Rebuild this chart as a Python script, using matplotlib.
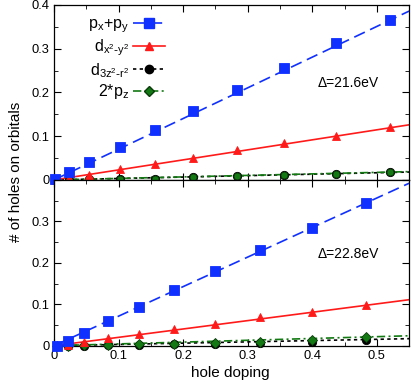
import matplotlib
matplotlib.use("Agg")
import matplotlib.pyplot as plt
from matplotlib.lines import Line2D
from matplotlib.ticker import MultipleLocator, FuncFormatter

plt.rcParams['font.family'] = ['Liberation Sans', 'DejaVu Sans']
plt.rcParams['mathtext.default'] = 'regular'

# panel 1 (Delta = 21.6 eV)
x_top = [0.001, 0.023, 0.054, 0.103, 0.156, 0.215, 0.284, 0.356, 0.437, 0.521]
pxy_top = [0.002, 0.018, 0.042, 0.076, 0.115, 0.157, 0.206, 0.255, 0.312, 0.366]
dx2_top = [0.000, 0.004, 0.011, 0.024, 0.037, 0.051, 0.069, 0.084, 0.101, 0.121]
d3z_top = [0.000, 0.000, 0.001, 0.002, 0.003, 0.006, 0.009, 0.011, 0.014, 0.018]
pz_top = [0.000, 0.000, 0.001, 0.002, 0.003, 0.006, 0.009, 0.011, 0.014, 0.018]

# panel 2 (Delta = 22.8 eV)
x_bot = [0.004, 0.021, 0.046, 0.084, 0.132, 0.186, 0.249, 0.319, 0.399, 0.484]
pxy_bot = [0.000, 0.011, 0.030, 0.059, 0.094, 0.135, 0.181, 0.230, 0.285, 0.344]
dx2_bot = [0.000, 0.002, 0.008, 0.019, 0.028, 0.040, 0.053, 0.069, 0.082, 0.099]
d3z_bot = [0.000, 0.000, 0.000, 0.001, 0.002, 0.004, 0.005, 0.007, 0.010, 0.013]
pz_bot = [0.000, 0.000, 0.001, 0.002, 0.003, 0.005, 0.007, 0.010, 0.013, 0.020]

# straight fit lines: value at x = 0 and at x = 0.55
fit_x = [0.0, 0.55]
fit_top = {"pxy": [0.0, 0.386], "dx2": [0.0, 0.126], "d3z": [0.0, 0.018], "pz": [0.0, 0.019]}
fit_bot = {"pxy": [0.0, 0.392], "dx2": [0.0, 0.111], "d3z": [0.0, 0.017], "pz": [0.0, 0.024]}

labels = {"pxy": r"p$_x$+p$_y$", "dx2": r"d$_{x^2\text{-}y^2}$",
          "d3z": r"d$_{3z^2\text{-}r^2}$", "pz": r"2*p$_z$"}
deltas = ["Δ=21.6eV", "Δ=22.8eV"]

blue, red, green = "#1030ff", "#ff1a1a", "#137a13"
style = {
    "pxy": dict(color=blue, ls=(0, (7, 3.5)), marker="s", ms=6.5),
    "dx2": dict(color=red, ls="-", marker="^", ms=5.5),
    "d3z": dict(color="black", ls=(0, (2, 2)), marker="o", ms=6),
    "pz": dict(color=green, ls=(0, (5, 2, 1.2, 2)), marker="D", ms=5),
}

fig = plt.figure(figsize=(4.12, 3.82), dpi=100)
ax1 = fig.add_axes([0.131, 0.529, 0.862, 0.458])
ax2 = fig.add_axes([0.131, 0.095, 0.862, 0.434])

panels = [
    (ax1, x_top, {"pxy": pxy_top, "dx2": dx2_top, "d3z": d3z_top, "pz": pz_top}, fit_top),
    (ax2, x_bot, {"pxy": pxy_bot, "dx2": dx2_bot, "d3z": d3z_bot, "pz": pz_bot}, fit_bot),
]
delta_y = [0.531, 0.529]

fmt = FuncFormatter(lambda v, p: "0" if abs(v) < 1e-9 else f"{v:.1f}")
for i, (ax, xs, series, fits) in enumerate(panels):
    for key in ["d3z", "pz", "dx2", "pxy"]:
        st = style[key]
        ax.plot(fit_x, fits[key], color=st["color"], ls=st["ls"], lw=1.2, zorder=2)
        mk = st["marker"]
        if i == 0 and key == "pz":
            mk = "o"
        ax.plot(xs, series[key], ls="none", marker=mk, ms=st["ms"], mfc=st["color"],
                mec="#0a3a0a" if key == "pz" else st["color"], mew=0.6, zorder=3,
                clip_on=False)
    ax.set_xlim(0, 0.55)
    ax.set_ylim(0, 0.4)
    ax.xaxis.set_major_locator(MultipleLocator(0.1))
    ax.xaxis.set_minor_locator(MultipleLocator(0.05))
    ax.yaxis.set_major_locator(MultipleLocator(0.1))
    ax.yaxis.set_minor_locator(MultipleLocator(0.05))
    ax.tick_params(which="both", direction="in", top=True, right=True, labelsize=9.3, pad=3)
    ax.tick_params(which="major", length=5)
    ax.tick_params(which="minor", length=3)
    ax.yaxis.set_major_formatter(fmt)
    ax.xaxis.set_major_formatter(fmt)
    ax.text(0.741, delta_y[i], deltas[i], transform=ax.transAxes, fontsize=10, va="baseline")
    for sp in ax.spines.values():
        sp.set_linewidth(0.9)

ax1.tick_params(labelbottom=False)
# hide the 0.4 label of the lower panel (overlaps upper panel's 0)
ax2.set_yticks([0, 0.1, 0.2, 0.3, 0.4])
ax2.set_yticklabels(["0", "0.1", "0.2", "0.3", ""])

handles = []
for key in ["pxy", "dx2", "d3z", "pz"]:
    st = style[key]
    handles.append(Line2D([0], [0], color=st["color"], ls=st["ls"], lw=1.2, marker=st["marker"],
                          ms=st["ms"], mfc=st["color"],
                          mec="#0a3a0a" if key == "pz" else st["color"]))
ax1.legend(handles, [labels[k] for k in ["pxy", "dx2", "d3z", "pz"]], loc="upper right",
           bbox_to_anchor=(0.313, 0.935), frameon=False, markerfirst=False, fontsize=11.5,
           handlelength=2.0, handletextpad=0.25, labelspacing=0.17, borderpad=0, borderaxespad=0)

fig.text(0.039, 0.551, "# of holes on orbitals", rotation=90, va="center", ha="center", fontsize=11)
fig.text(0.559, 0.013, "hole doping", ha="center", va="baseline", fontsize=11)

fig.savefig("out.png", dpi=100)
